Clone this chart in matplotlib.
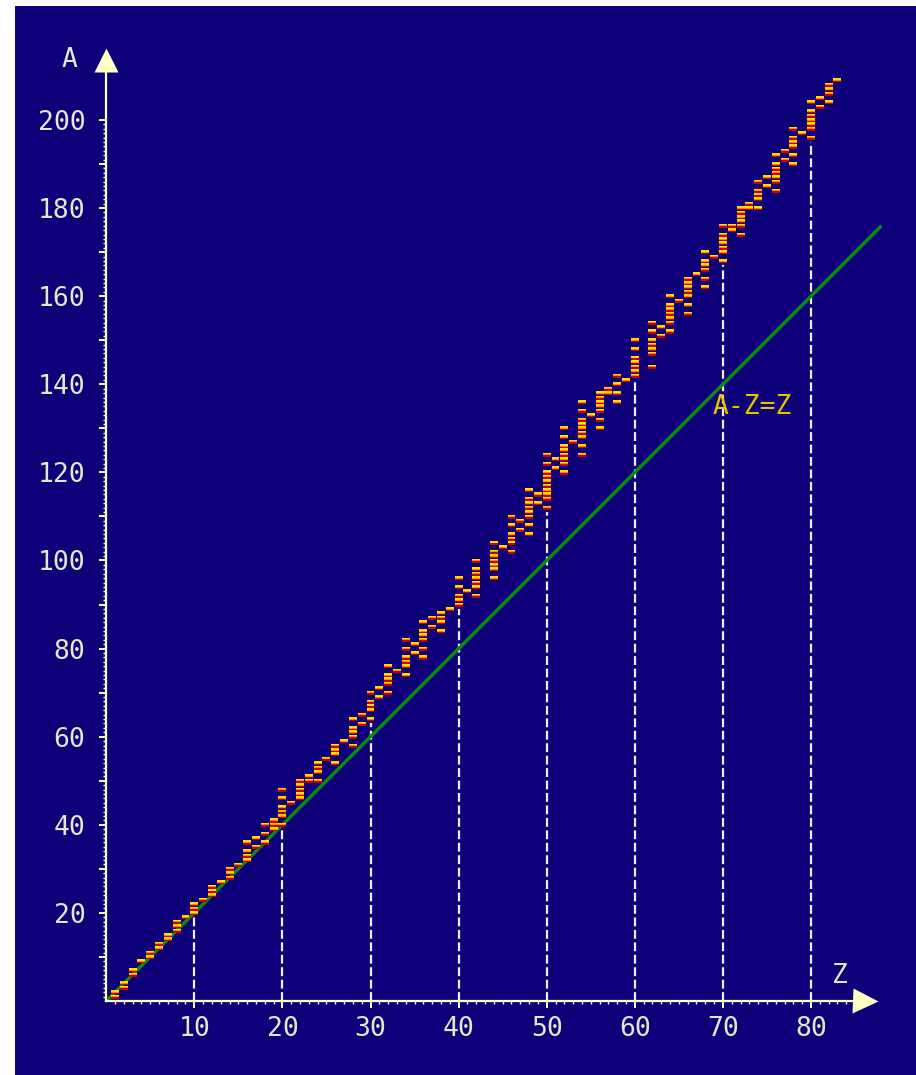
import matplotlib
matplotlib.use("Agg")
import matplotlib.pyplot as plt
import matplotlib.ticker as plticker
from matplotlib.patches import Rectangle

# stable nuclides: proton number Z and the mass numbers A found for it
z_values = list(range(1, 84))
mass_numbers = [
    [1, 2], [3, 4], [6, 7], [9], [10, 11], [12, 13], [14, 15], [16, 17, 18],
    [19], [20, 21, 22], [23], [24, 25, 26], [27], [28, 29, 30], [31],
    [32, 33, 34, 36], [35, 37], [36, 38, 40], [39, 40, 41],
    [40, 42, 43, 44, 46, 48], [45], [46, 47, 48, 49, 50], [50, 51],
    [50, 52, 53, 54], [55], [54, 56, 57, 58], [59], [58, 60, 61, 62, 64],
    [63, 65], [64, 66, 67, 68, 70], [69, 71], [70, 72, 73, 74, 76], [75],
    [74, 76, 77, 78, 80, 82], [79, 81], [78, 80, 82, 83, 84, 86], [85, 87],
    [84, 86, 87, 88], [89], [90, 91, 92, 94, 96], [93],
    [92, 94, 95, 96, 97, 98, 100], [],
    [96, 98, 99, 100, 101, 102, 104], [103], [102, 104, 105, 106, 108, 110],
    [107, 109], [106, 108, 110, 111, 112, 113, 114, 116], [113, 115],
    [112, 114, 115, 116, 117, 118, 119, 120, 122, 124], [121, 123],
    [120, 122, 123, 124, 125, 126, 128, 130], [127],
    [124, 126, 128, 129, 130, 131, 132, 134, 136], [133],
    [130, 132, 134, 135, 136, 137, 138], [138, 139], [136, 138, 140, 142],
    [141], [142, 143, 144, 145, 146, 148, 150], [],
    [144, 147, 148, 149, 150, 152, 154], [151, 153],
    [152, 154, 155, 156, 157, 158, 160], [159],
    [156, 158, 160, 161, 162, 163, 164], [165], [162, 164, 166, 167, 168, 170],
    [169], [168, 170, 171, 172, 173, 174, 176], [175, 176],
    [174, 176, 177, 178, 179, 180], [180, 181], [180, 182, 183, 184, 186],
    [185, 187], [184, 186, 187, 188, 189, 190, 192], [191, 193],
    [190, 192, 194, 195, 196, 198], [197],
    [196, 198, 199, 200, 201, 202, 204], [203, 205], [204, 206, 207, 208],
    [209],
]

# guide lines from the Z axis up to the band of stable nuclides
guide_z = [10, 20, 30, 40, 50, 60, 70, 80]
guide_top = [19, 39, 63, 89, 111, 141, 167, 195]

# N = Z line
line_z = [0, 88]
line_a = [0, 176]

x_ticks = [10, 20, 30, 40, 50, 60, 70, 80]
y_ticks = list(range(10, 201, 10))

navy = '#0D0078'
axis_color = '#FFFFC8'
label_color = '#E6E6CC'

plt.rcParams['font.family'] = ['DejaVu Sans Mono', 'DejaVu Sans']

fig = plt.figure(figsize=(9.16, 10.75), dpi=100, facecolor=navy)
# white strips on top and left edge of the original screenshot
fig.patches.append(Rectangle((0, 1 - 6 / 1075), 1, 6 / 1075, transform=fig.transFigure,
                             facecolor='white', edgecolor='none', zorder=-1))
fig.patches.append(Rectangle((0, 0), 15 / 916, 1, transform=fig.transFigure,
                             facecolor='white', edgecolor='none', zorder=-1))

ax = fig.add_axes([106.2 / 916, 74 / 1075, 775.3 / 916, 955.9 / 1075])
ax.set_facecolor(navy)
ax.set_xlim(0, 88)
ax.set_ylim(0, 217)
for s in ax.spines.values():
    s.set_visible(False)

# dashed guides
for z, top in zip(guide_z, guide_top):
    ax.plot([z, z], [0, top], color='#F0F0E0', lw=1.6, dashes=(4.0, 1.6), zorder=2)

# N = Z line
ax.plot(line_z, line_a, color='#0B8C12', lw=2.4, zorder=3, solid_capstyle='butt')

# nuclides, drawn as small yellow/red dashes
zs, As = [], []
for z, masses in zip(z_values, mass_numbers):
    for a in masses:
        zs.append(z)
        As.append(a)
ax.bar(zs, 0.34, bottom=[a - 0.48 for a in As], width=0.9, color='#C80000', zorder=4)
ax.bar(zs, 0.22, bottom=[a - 0.14 for a in As], width=0.9, color='#FF8800', zorder=4)
ax.bar(zs, 0.36, bottom=[a + 0.08 for a in As], width=0.9, color='#FFE000', zorder=4)

ax.text(68.8, 134.8, 'A-Z=Z', color='#E8C400', fontsize=19, ha='left', va='center', zorder=5)

# axes with arrow heads
ax.plot([0, 85], [0, 0], color=axis_color, lw=1.6, clip_on=False, zorder=6)
ax.plot([0, 0], [0, 212], color=axis_color, lw=1.6, clip_on=False, zorder=6)
ax.plot([86.1], [0], marker='>', ms=18, color=axis_color, mec='none', clip_on=False, zorder=6)
ax.plot([0], [213.6], marker='^', ms=17, color=axis_color, mec='none', clip_on=False, zorder=6)
ax.text(-4.2, 213.6, 'A', color=label_color, fontsize=19, ha='center', va='center')
ax.text(83.3, 5.7, 'Z', color=label_color, fontsize=19, ha='center', va='center')

ax.xaxis.set_major_locator(plticker.FixedLocator(x_ticks))
ax.xaxis.set_minor_locator(plticker.FixedLocator(range(1, 85)))
ax.yaxis.set_major_locator(plticker.FixedLocator(y_ticks))
ax.yaxis.set_minor_locator(plticker.FixedLocator(range(1, 201)))
ax.yaxis.set_major_formatter(plticker.FuncFormatter(lambda v, p: '%d' % v if v % 20 == 0 else ''))
ax.tick_params(which='major', direction='out', length=5, width=1.4, color=axis_color,
               labelcolor=label_color, labelsize=19)
ax.tick_params(which='minor', direction='out', length=2.4, width=1.0, color=axis_color)
ax.tick_params(axis='x', which='major', pad=6)
ax.tick_params(axis='y', which='major', pad=10)

fig.savefig('out.png', dpi=100, facecolor=navy)
